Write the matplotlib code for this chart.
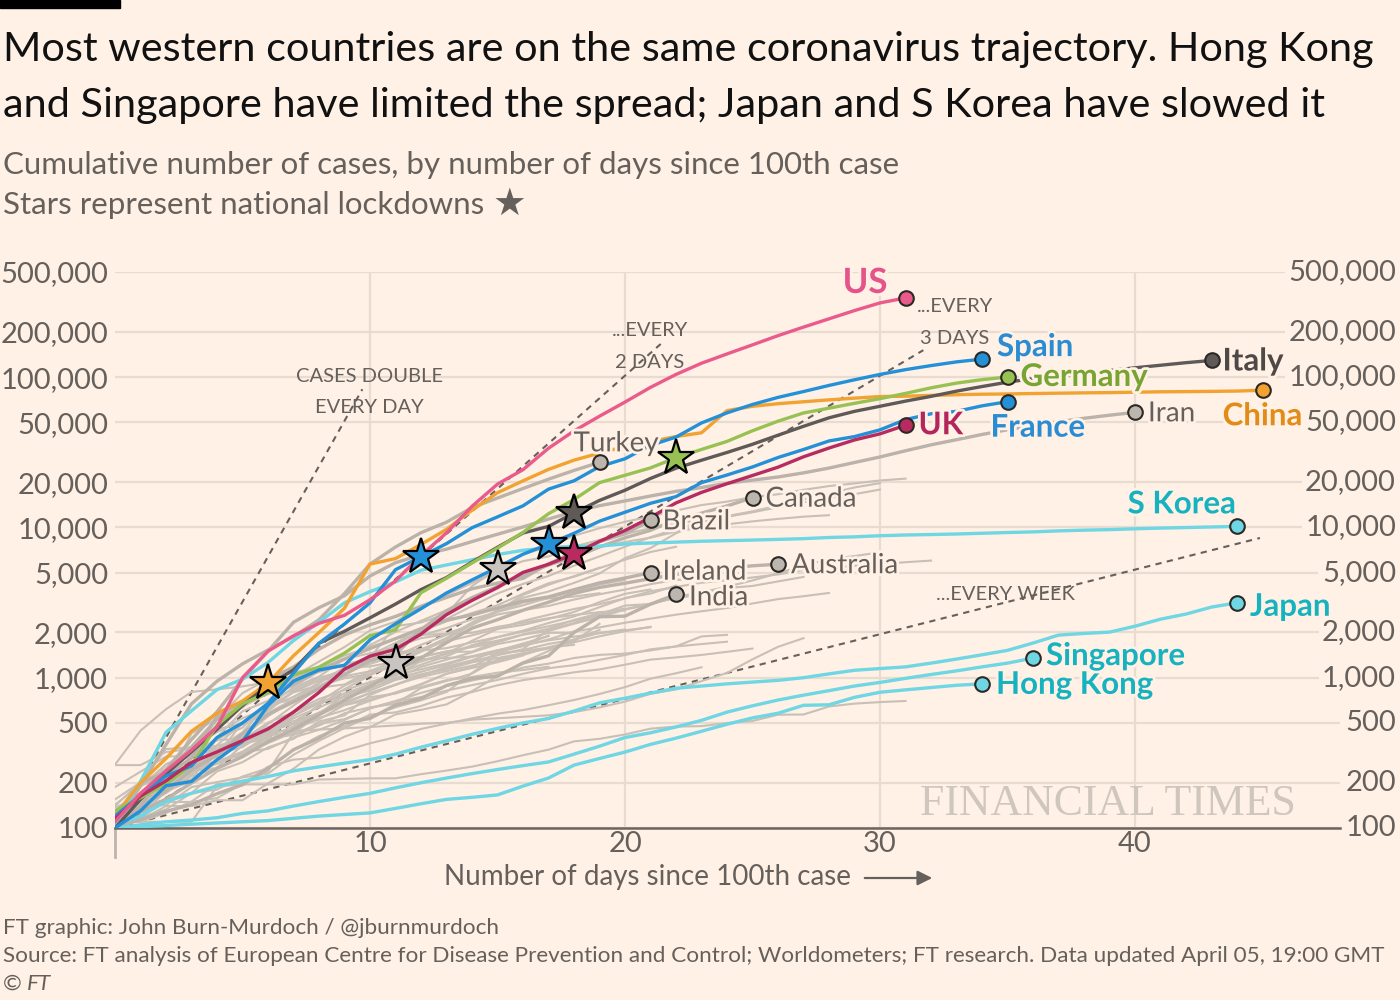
import matplotlib
matplotlib.use("Agg")
import matplotlib.pyplot as plt
from matplotlib import patheffects
from matplotlib.patches import Rectangle
from matplotlib.ticker import NullLocator
from matplotlib.transforms import blended_transform_factory

# ---- data: cumulative cases by day since 100th case ----
us = [110, 170, 240, 330, 470, 1000, 1500, 1900, 2300, 2600, 3300, 4400, 6500, 9200, 13800, 19400,
      24200, 33600, 43800, 54900, 68200, 85400, 104100, 123600, 142500, 163800, 188600, 215000,
      244000, 277000, 311400, 336000]
spain = [120, 165, 222, 259, 400, 500, 673, 1073, 1695, 2277, 3146, 5232, 6391, 7798, 9942, 11748,
         13910, 17963, 20410, 25374, 28603, 35136, 39885, 49515, 57786, 65719, 73235, 80110, 87956,
         95923, 104118, 112065, 119199, 126168, 131646]
france = [100, 130, 191, 204, 285, 377, 653, 949, 1126, 1209, 1784, 2281, 2876, 3661, 4469, 5423,
          6633, 7730, 9134, 10995, 12612, 14459, 16018, 19856, 22304, 25233, 29155, 32964, 37575,
          40174, 44550, 52128, 56989, 59105, 64338, 68605]
uk = [115, 163, 206, 273, 321, 382, 456, 590, 798, 1140, 1391, 1543, 1950, 2626, 3269, 3983, 5018,
      5683, 6650, 8077, 9529, 11658, 14543, 17089, 19522, 22141, 25150, 29474, 33718, 38168, 41903,
      47806]
germany = [130, 159, 196, 262, 482, 670, 799, 1040, 1176, 1457, 1908, 2078, 3675, 4585, 5795, 7272,
           9257, 12327, 15320, 19848, 22213, 24873, 29056, 32986, 37323, 43938, 50871, 57695, 62095,
           66885, 71808, 77872, 84794, 91159, 96092, 100123]
italy = [100, 155, 229, 322, 453, 655, 888, 1128, 1694, 2036, 2502, 3089, 3858, 4636, 5883, 7375,
         9172, 10149, 12462, 15113, 17660, 21157, 24747, 27980, 31506, 35713, 41035, 47021, 53578,
         59138, 63927, 69176, 74386, 80589, 86498, 92472, 97689, 101739, 105792, 110574, 115242,
         119827, 124632, 128948]
china = [120, 200, 290, 440, 580, 700, 920, 1400, 2000, 2900, 5700, 6200, 7700, 9700, 13000, 17000,
         20400, 24300, 28000, 31200, 34500, 37200, 40200, 42600, 59800, 63900, 66500, 68500, 70500,
         72400, 74200, 74600, 75500, 76300, 76900, 77200, 77700, 78100, 78500, 78800, 79300, 79800,
         80000, 80300, 80700, 81700]
s_korea = [104, 204, 433, 602, 833, 977, 1261, 1766, 2337, 3150, 3736, 4335, 5186, 5621, 6088, 6593,
           7041, 7314, 7478, 7513, 7755, 7869, 7979, 8086, 8162, 8236, 8320, 8413, 8565, 8652, 8799,
           8897, 8961, 9037, 9137, 9241, 9332, 9478, 9583, 9661, 9786, 9887, 9976, 10062, 10156]
japan = [105, 120, 150, 170, 190, 205, 220, 240, 255, 270, 285, 310, 345, 380, 420, 460, 500, 535,
         600, 680, 730, 790, 850, 880, 910, 935, 960, 1000, 1060, 1120, 1150, 1180, 1250, 1330, 1420,
         1520, 1700, 1920, 1970, 2010, 2200, 2450, 2650, 2950, 3150]
singapore = [100, 105, 110, 113, 117, 125, 130, 140, 150, 160, 170, 185, 200, 215, 230, 245, 260,
             275, 310, 350, 400, 430, 470, 520, 590, 650, 710, 765, 820, 880, 930, 990, 1050, 1110,
             1180, 1250, 1350]
hong_kong = [100, 102, 104, 106, 108, 110, 112, 116, 120, 123, 126, 135, 145, 155, 160, 166, 190,
             215, 262, 290, 320, 360, 396, 440, 490, 540, 580, 655, 660, 740, 800, 830, 860, 890, 910]

# labelled grey countries
turkey = [100, 191, 359, 670, 947, 1236, 1529, 1872, 2433, 3629, 5698, 7402, 9217, 10827, 13531,
          15679, 18135, 20921, 23934, 27069]
canada = [103, 138, 176, 244, 304, 424, 569, 690, 846, 1048, 1302, 1430, 2088, 2790, 3409, 4043,
          4757, 5655, 6320, 7398, 8527, 9560, 11284, 12437, 13882, 15756]
brazil = [121, 200, 234, 346, 529, 640, 970, 1178, 1546, 1924, 2247, 2554, 2985, 3417, 3904, 4256,
          4579, 5717, 6836, 8044, 9056, 11130]
ireland = [129, 169, 223, 292, 557, 683, 785, 906, 1125, 1329, 1564, 1819, 2121, 2415, 2615, 2910,
           3235, 3447, 3849, 4273, 4604, 4994]
australia = [107, 128, 156, 199, 249, 298, 375, 454, 565, 709, 874, 1098, 1352, 1709, 2136, 2431,
             2810, 3179, 3637, 3985, 4250, 4560, 4862, 5136, 5358, 5550, 5687]
india = [100, 114, 129, 143, 169, 194, 249, 332, 396, 499, 536, 657, 727, 887, 987, 1024, 1251,
         1397, 1998, 2543, 2567, 3082, 3588]
iran = [100, 139, 245, 388, 593, 978, 1501, 2336, 2922, 3513, 4747, 5823, 6566, 7161, 8042, 9000,
        10075, 11364, 12729, 13938, 14991, 16169, 17361, 18407, 19644, 20610, 21638, 23049, 24811,
        27017, 29406, 32332, 35408, 38309, 41495, 44605, 47593, 50468, 53183, 55743, 58226]

# unlabelled grey countries
belgium = [109, 169, 200, 239, 267, 314, 399, 559, 689, 886, 1058, 1243, 1486, 1795, 2257, 2815,
           3401, 3743, 4269, 4937, 6235, 7284, 9134, 10836, 11899, 12775, 13964, 15348, 16770,
           18431, 19691]
netherlands = [128, 188, 265, 321, 382, 503, 614, 804, 959, 1135, 1413, 1705, 2051, 2460, 2994,
               3631, 4204, 4749, 5560, 6412, 7431, 8603, 9762, 10866, 11750, 12595, 13614, 14697,
               15723, 16627, 17851]
switzerland = [100, 114, 214, 268, 337, 374, 491, 652, 858, 1125, 1359, 2200, 2330, 2650, 4075,
               5294, 6575, 7474, 8795, 9877, 10897, 11811, 12928, 14076, 14829, 15922, 16605, 17768,
               18827, 19606, 20505, 21100]
austria = [104, 131, 182, 246, 302, 504, 655, 860, 1016, 1332, 1646, 2013, 2388, 2814, 3244, 3924,
           4876, 5560, 6398, 7399, 7995, 8536, 9377, 9974, 10482, 10967, 11383, 11781, 12051]
portugal = [112, 169, 245, 331, 448, 642, 785, 1020, 1280, 1600, 2060, 2362, 2995, 3544, 4268,
            5170, 5962, 6408, 7443, 8251, 9034, 9886, 10524, 11278]
sweden = [137, 161, 203, 248, 355, 500, 599, 814, 961, 1022, 1103, 1190, 1279, 1439, 1639, 1763,
          1934, 2046, 2286, 2526, 2840, 3069, 3447, 3700, 4028, 4435, 4947, 5568, 6131, 6443, 6830]
norway = [108, 147, 176, 205, 400, 598, 702, 996, 1090, 1221, 1333, 1463, 1550, 1746, 1914, 2118,
          2385, 2621, 2863, 3084, 3369, 3755, 4015, 4284, 4445, 4641, 4863, 5208, 5370, 5550, 5687,
          5865, 6010]
denmark = [264, 444, 617, 804, 836, 875, 933, 1024, 1115, 1225, 1337, 1420, 1514, 1572, 1718, 1862,
           2023, 2201, 2395, 2577, 2860, 3107, 3386, 3573, 3946, 4077, 4369, 4681]
israel = [143, 193, 213, 298, 337, 433, 677, 705, 883, 1071, 1238, 1656, 2030, 2369, 2693, 3035,
          3619, 4247, 4695, 5358, 6092, 6857, 7428]
czechia = [116, 150, 214, 298, 396, 464, 694, 833, 995, 1120, 1236, 1394, 1654, 1925, 2279, 2631,
           2817, 3001, 3308, 3589, 3858, 4190, 4472, 4587]
malaysia = [117, 129, 149, 149, 158, 197, 238, 428, 566, 673, 790, 900, 1030, 1183, 1306, 1518,
            1624, 1796, 2031, 2161, 2320, 2470, 2626, 2766, 2908, 3116, 3333, 3483, 3662]
chile = [155, 201, 238, 342, 434, 537, 632, 746, 922, 1142, 1306, 1610, 1909, 2139, 2449, 2738,
         3031, 3404, 3737, 4161, 4471]
ecuador = [111, 168, 199, 426, 532, 789, 981, 1082, 1173, 1403, 1595, 1823, 1924, 1962, 2240, 2748,
           3163, 3368, 3465, 3646]
poland = [103, 119, 177, 238, 251, 355, 425, 536, 634, 749, 901, 1051, 1221, 1389, 1638, 1862,
          2055, 2311, 2554, 2946, 3383, 3627, 4102]
romania = [123, 158, 184, 260, 277, 308, 367, 433, 576, 762, 906, 1029, 1292, 1452, 1760, 2109,
           2245, 2460, 2738, 3183, 3613, 3864]
russia = [114, 147, 199, 253, 306, 367, 438, 495, 658, 840, 1036, 1264, 1534, 1836, 2337, 2777,
          3548, 4149, 4731, 5389]
philippines = [111, 140, 142, 187, 202, 217, 230, 307, 380, 462, 552, 636, 707, 803, 1075, 1418,
               1546, 2084, 2311, 2633, 3018, 3094]
pakistan = [187, 237, 299, 301, 454, 495, 645, 799, 887, 991, 1057, 1201, 1373, 1495, 1597, 1717,
            1938, 2118, 2421, 2686, 2880]
luxembourg = [140, 203, 335, 345, 484, 670, 798, 875, 1099, 1333, 1453, 1605, 1831, 1950, 1988,
              2178, 2319, 2487, 2612, 2729, 2804]
saudi_arabia = [103, 118, 133, 171, 238, 274, 344, 392, 511, 562, 767, 900, 1012, 1104, 1203, 1299,
                1453, 1563, 1720, 1885, 2039, 2179]
finland = [109, 155, 225, 244, 277, 321, 336, 400, 450, 523, 626, 700, 792, 880, 958, 1041, 1167,
           1240, 1352, 1418, 1446, 1518, 1615, 1882, 1927]
greece = [117, 190, 228, 331, 352, 387, 418, 418, 495, 530, 624, 695, 743, 821, 892, 966, 1061,
          1156, 1212, 1314, 1415, 1544, 1613, 1673, 1735]
iceland = [103, 134, 156, 171, 180, 220, 250, 330, 409, 473, 568, 588, 648, 737, 802, 890, 963,
           1020, 1086, 1135, 1220, 1319, 1364, 1417, 1486, 1562]
indonesia = [117, 134, 172, 227, 309, 369, 450, 514, 579, 686, 790, 893, 1046, 1155, 1285, 1414,
             1528, 1677, 1790, 1986, 2092]
thailand = [114, 147, 177, 212, 272, 322, 411, 599, 721, 827, 934, 1045, 1136, 1245, 1388, 1524,
            1651, 1771, 1875, 1978, 2067, 2169]
mexico = [118, 164, 203, 251, 316, 367, 405, 475, 585, 717, 848, 993, 1094, 1215, 1378, 1510, 1688,
          1890]
peru = [117, 145, 234, 263, 318, 363, 395, 416, 480, 580, 635, 671, 852, 950, 1065, 1323, 1414,
        1595, 1746, 2281]
qatar = [262, 262, 320, 337, 337, 401, 439, 442, 452, 460, 470, 481, 494, 501, 526, 537, 549, 562,
         590, 634, 693, 781, 835, 949, 1075, 1325, 1604, 1832]
egypt = [109, 110, 126, 150, 196, 196, 256, 285, 294, 327, 366, 402, 456, 495, 536, 576, 609, 656,
         710, 779, 865, 985, 1070, 1173]
bahrain = [109, 110, 110, 110, 189, 195, 195, 195, 210, 212, 214, 214, 228, 241, 256, 278, 305, 332,
           377, 392, 419, 458, 473, 476, 499, 515, 567, 569, 643, 672, 688, 700]
south_africa = [116, 150, 202, 240, 274, 402, 554, 709, 927, 1170, 1187, 1280, 1326, 1353, 1380,
                1462, 1505, 1585, 1655]
uae = [113, 113, 140, 140, 153, 153, 198, 248, 333, 405, 468, 570, 611, 664, 814, 1024, 1264, 1505,
       1799, 2076]
argentina = [128, 158, 266, 301, 387, 387, 502, 589, 690, 745, 820, 966, 1054, 1133, 1265, 1353,
             1451]
colombia = [102, 128, 196, 231, 306, 378, 470, 491, 539, 608, 702, 798, 906, 1065, 1161, 1267, 1406]
serbia = [103, 135, 171, 222, 249, 303, 384, 457, 528, 659, 741, 785, 900, 1060, 1171, 1476, 1624,
          1908]
croatia = [105, 128, 206, 254, 315, 382, 442, 495, 586, 657, 713, 790, 867, 963, 1011, 1079, 1126,
           1182]
dominican_rep = [112, 202, 245, 312, 392, 488, 581, 719, 859, 901, 1109, 1284, 1380, 1488, 1488,
                 1745]
panama = [109, 137, 200, 245, 313, 345, 443, 558, 674, 786, 901, 989, 1181, 1317, 1475, 1673, 1801,
          1988, 1988]

# doubling guides: (start day, end day), (start value, end value)
guide_day_x, guide_day_y = [0, 9.7], [100, 83000]
guide_2d_x, guide_2d_y = [0, 21.4], [100, 166000]
guide_3d_x, guide_3d_y = [0, 31.7], [100, 151000]
guide_wk_x, guide_wk_y = [0, 44.9], [100, 8500]

y_ticks = [100, 200, 500, 1000, 2000, 5000, 10000, 20000, 50000, 100000, 200000, 500000]
x_ticks = [10, 20, 30, 40]

# ---- styling ----
BG = "#fff1e5"
GRID = "#e8dcd1"
TXT = "#66605c"
GREY = "#c8bfb6"
GREY_LAB = "#bbb2a9"
CYAN = "#6fd6e3"
CYAN_TXT = "#17b2bf"
BLUE = "#2490d8"
FONT = ["Lato", "DejaVu Sans"]

plt.rcParams["font.family"] = FONT

fig = plt.figure(figsize=(14, 10), dpi=100, facecolor=BG)
W, H = 1400, 1000


def fx(x):
    return x / W


def fy(y):
    return 1 - y / H


ax = fig.add_axes([fx(115), fy(828), (1340 - 115) / W, (828 - 272) / H])
ax.set_facecolor(BG)
ax.set_yscale("log")
ax.set_ylim(100, 500000)
ax.set_xlim(0, (1340 - 115) / 25.5)
ax.yaxis.set_minor_locator(NullLocator())
ax.set_yticks(y_ticks)
ax.set_yticklabels([f"{t:,}" for t in y_ticks])
ax.set_xticks(x_ticks)
ax.set_xticklabels([str(t) for t in x_ticks])
ax.tick_params(axis="y", length=0, pad=5, labelsize=21, labelcolor=TXT)
ax.tick_params(axis="x", length=0, pad=2, labelsize=21, labelcolor=TXT)
ax.grid(True, color=GRID, lw=1.6, zorder=0)
ax.set_axisbelow(True)
for s in ["top", "right", "left"]:
    ax.spines[s].set_visible(False)
ax.spines["bottom"].set_color("#6b6460")
ax.spines["bottom"].set_linewidth(1.8)
ax.plot([0, 0], [0, -0.052], transform=ax.get_xaxis_transform(), color="#bdb4ab",
        lw=2, clip_on=False)

# right-hand y labels
rt = blended_transform_factory(fig.transFigure, ax.transData)
for t in y_ticks:
    ax.text(fx(1396), t, f"{t:,}", transform=rt, ha="right", va="center", fontsize=21,
            color=TXT, clip_on=False, zorder=8,
            bbox=dict(boxstyle="square,pad=0.12", fc=BG, ec="none"))

# doubling guide lines
for gx, gy in [(guide_day_x, guide_day_y), (guide_2d_x, guide_2d_y),
               (guide_3d_x, guide_3d_y), (guide_wk_x, guide_wk_y)]:
    ax.plot(gx, gy, color=TXT, lw=1.5, ls=(0, (3, 2.6)), zorder=1.5)

# grey lines
grey_lines = [belgium, netherlands, switzerland, austria, portugal, sweden, norway, denmark, israel,
              czechia, malaysia, chile, ecuador, poland, romania, russia, philippines, pakistan,
              luxembourg, saudi_arabia, finland, greece, iceland, indonesia, thailand, mexico, peru,
              qatar, egypt, bahrain, south_africa, uae, argentina, colombia, serbia, croatia,
              dominican_rep, panama]
for v in grey_lines:
    ax.plot(range(len(v)), v, color=GREY, lw=1.5, zorder=2, solid_joinstyle="round")

labelled_grey = [("Turkey", turkey, (-26, 11)), ("Canada", canada, (13, -9)),
                 ("Brazil", brazil, (12, -9)), ("Ireland", ireland, (12, -7)),
                 ("Australia", australia, (13, -9)), ("India", india, (13, -11)),
                 ("Iran", iran, (13, -9))]
for name, v, off in labelled_grey:
    ax.plot(range(len(v)), v, color=GREY_LAB, lw=2.4, zorder=2.5, solid_joinstyle="round")

halo = [patheffects.withStroke(linewidth=4, foreground=BG)]

# highlighted countries: name, data, line colour, label colour, offset, ha
highlighted = [
    ("Hong Kong", hong_kong, CYAN, CYAN_TXT, (14, -10), "left"),
    ("Singapore", singapore, CYAN, CYAN_TXT, (13, -7), "left"),
    ("Japan", japan, CYAN, CYAN_TXT, (13, -13), "left"),
    ("S Korea", s_korea, CYAN, CYAN_TXT, (-1, 13), "right"),
    ("China", china, "#f2a230", "#e38b17", (0, -35), "center"),
    ("Italy", italy, "#5f5a57", "#4e4946", (11, -10), "left"),
    ("Germany", germany, "#98c153", "#78a532", (13, -9), "left"),
    ("France", france, BLUE, "#2a8cd3", (-17, -35), "left"),
    ("Spain", spain, BLUE, "#2a8cd3", (15, 3), "left"),
    ("UK", uk, "#b72b61", "#b3255c", (13, -9), "left"),
    ("US", us, "#ea5b8b", "#e5538a", (-18, 5), "right"),
]
for name, v, col, tcol, off, ha in highlighted:
    ax.plot(range(len(v)), v, color=col, lw=2.4, zorder=4, solid_joinstyle="round")
    ax.plot(len(v) - 1, v[-1], "o", ms=10.5, mfc=col, mec="#2b2826", mew=1.5, zorder=6)
    fs = 25 if name == "US" else 22.5
    ax.annotate(name, (len(v) - 1, v[-1]), xytext=off, textcoords="offset pixels",
                ha=ha, va="baseline", fontsize=fs, fontweight="bold", color=tcol, zorder=7,
                path_effects=halo, annotation_clip=False)

for name, v, off in labelled_grey:
    ax.plot(len(v) - 1, v[-1], "o", ms=10.5, mfc="#bdb6af", mec="#2b2826", mew=1.5, zorder=6)
    ax.annotate(name, (len(v) - 1, v[-1]), xytext=off, textcoords="offset pixels",
                ha="left", va="baseline", fontsize=20, color=TXT, zorder=7,
                path_effects=halo)

# lockdown stars: series, day, fill colour
lockdowns = [(china, 6, "#f2a230"), (belgium, 11, "#c9c4bf"), (spain, 12, BLUE),
             (switzerland, 15, "#c9c4bf"), (france, 17, BLUE), (italy, 18, "#5f5a57"),
             (uk, 18, "#b72b61"), (germany, 22, "#98c153")]
for v, d, col in lockdowns:
    ax.plot(d, v[d], marker="*", ms=27, mfc=col, mec="black", mew=1.6, zorder=8)

# guide annotations
for x, y, s in [(369, 376, "CASES DOUBLE"), (369, 408, "EVERY DAY"),
                (650, 330, "...EVERY"), (650, 362, "2 DAYS"),
                (955, 307, "...EVERY"), (955, 338, "3 DAYS"),
                (1005, 594, "...EVERY WEEK")]:
    fig.text(fx(x), fy(y), s, ha="center", va="center", fontsize=14.5, color=TXT, zorder=9)

# watermark
fig.text(fx(920), fy(815), "FINANCIAL TIMES", ha="left", va="baseline", fontsize=31.5,
         family="Liberation Serif", color="#cfc6bd")

# axis title with arrow
fig.text(fx(647), fy(877), "Number of days since 100th case", ha="center", va="center",
         fontsize=20, color=TXT)
ax.annotate("", xy=(935, H - 878), xytext=(862, H - 878), xycoords="figure pixels",
            textcoords="figure pixels",
            arrowprops=dict(arrowstyle="-|>", color=TXT, lw=1.6, mutation_scale=22))

# titles
fig.patches.append(Rectangle((0, fy(8)), fx(120), 8 / H, transform=fig.transFigure,
                             color="black"))
fig.text(fx(3), fy(50), "Most western countries are on the same coronavirus trajectory. Hong Kong",
         ha="left", va="center", fontsize=29.8, color="#111111")
fig.text(fx(3), fy(105), "and Singapore have limited the spread; Japan and S Korea have slowed it",
         ha="left", va="center", fontsize=29.8, color="#111111")
fig.text(fx(3), fy(165), "Cumulative number of cases, by number of days since 100th case",
         ha="left", va="center", fontsize=22.5, color=TXT)
fig.text(fx(3), fy(205), "Stars represent national lockdowns",
         ha="left", va="center", fontsize=22.5, color=TXT)
fig.text(fx(493), fy(205), "\u2605", ha="left", va="center", fontsize=27, color=TXT,
         family="DejaVu Sans")

# footer
fig.text(fx(3), fy(928), "FT graphic: John Burn-Murdoch / @jburnmurdoch", ha="left",
         va="center", fontsize=16.2, color=TXT)
fig.text(fx(3), fy(956), "Source: FT analysis of European Centre for Disease Prevention and "
         "Control; Worldometers; FT research. Data updated April 05, 19:00 GMT",
         ha="left", va="center", fontsize=16.2, color=TXT)
fig.text(fx(3), fy(984), "\u00a9", ha="left", va="center", fontsize=16.2, color=TXT)
fig.text(fx(27), fy(984), "FT", ha="left", va="center", fontsize=16.2, color=TXT,
         style="italic")

fig.savefig("out.png", dpi=100, facecolor=BG)
